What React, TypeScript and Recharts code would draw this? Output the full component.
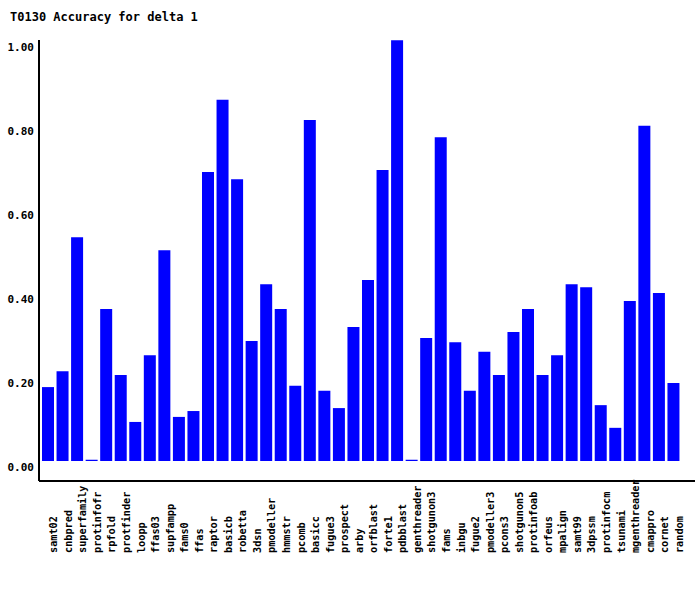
import React from "react";
import { BarChart, Bar, XAxis, YAxis } from "recharts";

const titleText = "T0130 Accuracy for delta 1";

const methods = [
  "samt02", "cnbpred", "superfamily", "protinfofr", "rpfold", "protfinder",
  "loopp", "ffas03", "supfampp", "fams0", "ffas", "raptor", "basicb",
  "robetta", "3dsn", "pmodeller", "hmmstr", "pcomb", "basicc", "fugue3",
  "prospect", "arby", "orfblast", "forte1", "pdbblast", "genthreader",
  "shotgunon3", "fams", "inbgu", "fugue2", "pmodeller3", "pcons3",
  "shotgunon5", "protinfoab", "orfeus", "mpalign", "samt99", "3dpssm",
  "protinfocm", "tsunami", "mgenthreader", "cmappro", "cornet", "random",
];

const accuracy = [
  0.176, 0.214, 0.533, 0.003, 0.362, 0.205,
  0.093, 0.252, 0.502, 0.105, 0.119, 0.688, 0.86,
  0.671, 0.286, 0.421, 0.362, 0.179, 0.812, 0.167,
  0.126, 0.319, 0.431, 0.693, 1.002, 0.003,
  0.293, 0.771, 0.283, 0.167, 0.26, 0.205,
  0.307, 0.362, 0.205, 0.252, 0.421, 0.414,
  0.133, 0.079, 0.381, 0.798, 0.4, 0.186,
];

const yTicks = [0, 0.2, 0.4, 0.6, 0.8, 1.0];

const data = methods.map((m, i) => ({ name: m, value: accuracy[i] }));

const FONT = "'DejaVu Sans Mono', monospace";

const XTick = (props: any) => {
  const { x, y, payload } = props;
  const tx = x + 9;
  const ty = y + 69;
  return (
    <text
      x={tx}
      y={ty}
      transform={`rotate(-90, ${tx}, ${ty})`}
      textAnchor="start"
      fontFamily={FONT}
      fontWeight="bold"
      fontSize={10.2}
      fill="#000"
    >
      {payload.value}
    </text>
  );
};

const YTick = (props: any) => {
  const { x, y, payload } = props;
  return (
    <text
      x={x}
      y={y + 10}
      textAnchor="end"
      fontFamily={FONT}
      fontWeight="bold"
      fontSize={11}
      fill="#000"
    >
      {Number(payload.value).toFixed(2)}
    </text>
  );
};

export default function App() {
  return (
    <div style={{ position: "absolute", left: 0, top: 0, width: 700, height: 590, background: "#fff" }}>
      <svg style={{ position: "absolute", left: 0, top: 0 }} width={700} height={30}>
        <text x={10} y={21} fontFamily={FONT} fontWeight="bold" fontSize={12} fill="#000">
          {titleText}
        </text>
      </svg>
      <div style={{ position: "absolute", left: 0, top: 0 }}>
        <BarChart
          width={700}
          height={590}
          data={data}
          margin={{ top: 40, right: 5, bottom: 0, left: 0 }}
        >
          <XAxis
            dataKey="name"
            interval={0}
            tick={<XTick />}
            tickLine={false}
            tickSize={0}
            tickMargin={3}
            axisLine={{ stroke: "#000", strokeWidth: 2 }}
            height={109}
            padding={{ left: 2, right: 14 }}
          />
          <YAxis
            width={39}
            domain={[-0.0476, 1.0024]}
            ticks={yTicks}
            tick={<YTick />}
            tickLine={false}
            tickSize={3}
            tickMargin={2}
            axisLine={{ stroke: "#000", strokeWidth: 2 }}
            allowDataOverflow
          />
          <Bar dataKey="value" fill="#0000ff" barSize={12} isAnimationActive={false} />
        </BarChart>
      </div>
    </div>
  );
}
